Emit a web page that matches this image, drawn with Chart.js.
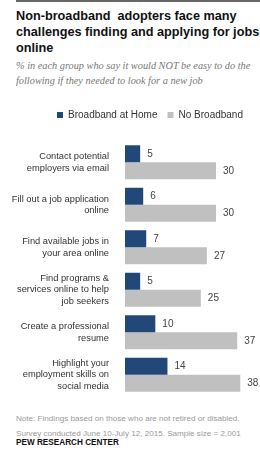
<!DOCTYPE html>
<html>
<head>
<meta charset="utf-8">
<script src="https://cdn.jsdelivr.net/npm/chart.js@4/dist/chart.umd.min.js"></script>
<style>
  body { margin: 0; width: 260px; height: 464px; background: #fff; position: relative; overflow: hidden; }
  .topline { position: absolute; left: 16px; right: 0; top: 0; height: 2px; background: #666; }
  h1 { position: absolute; left: 16px; top: 8px; margin: 0; font: bold 12.7px/16.2px "Liberation Sans", Arial, sans-serif; color: #111; }
  .sub { position: absolute; left: 16px; top: 58px; margin: 0; font: italic 10.3px/15px "Liberation Serif", Georgia, serif; color: #777; }
  #wrap { position: absolute; left: 0; top: 100px; width: 260px; height: 300px; }
  .foot { position: absolute; left: 16px; font: 8.1px "Liberation Sans", Arial, sans-serif; color: #999; white-space: nowrap; }
  .pew { position: absolute; left: 16px; top: 438px; font: bold 8.2px "Liberation Sans", Arial, sans-serif; color: #111; }
</style>
</head>
<body>
<div class="topline"></div>
<h1>Non-broadband&nbsp; adopters face many<br>challenges finding and applying for jobs<br>online</h1>
<p class="sub">% in each group who say it would NOT be easy to do the<br>following if they needed to look for a new job</p>
<div id="wrap"><canvas id="chart"></canvas></div>
<div class="foot" style="top:414px">Note: Findings based on those who are not retired or disabled.</div>
<div class="foot" style="top:429px">Survey conducted June 10-July 12, 2015. Sample size = 2,001</div>
<div class="pew">PEW RESEARCH CENTER</div>
<script>
const categories = [
  ['Contact potential', 'employers via email'],
  ['Fill out a job application', 'online'],
  ['Find available jobs in', 'your area online'],
  ['Find programs &', 'services online to help', 'job seekers'],
  ['Create a professional', 'resume'],
  ['Highlight your', 'employment skills on', 'social media']
];
const broadbandAtHome = [5, 6, 7, 5, 10, 14];
const noBroadband = [30, 30, 27, 25, 37, 38];

// extra space under the legend, and nudge it right like the original
const legendGap = {
  id: 'legendGap',
  beforeInit(chart) {
    const fit = chart.legend.fit;
    chart.legend.fit = function () {
      fit.bind(chart.legend)();
      this.height += 11;
    };
  },
  afterLayout(chart) {
    chart.legend.left += 20;
    chart.legend.right += 20;
  }
};

const valueLabels = {
  id: 'valueLabels',
  afterDatasetsDraw(chart) {
    const ctx = chart.ctx;
    ctx.save();
    ctx.font = '10px "Liberation Sans", Arial, sans-serif';
    ctx.fillStyle = '#444';
    ctx.textBaseline = 'middle';
    chart.data.datasets.forEach((ds, i) => {
      chart.getDatasetMeta(i).data.forEach((bar, j) => {
        ctx.fillText(ds.data[j], bar.x + 7, bar.y);
      });
    });
    ctx.restore();
  }
};

new Chart(document.getElementById('chart'), {
  type: 'bar',
  data: {
    labels: categories,
    datasets: [
      { label: 'Broadband at Home', data: broadbandAtHome, backgroundColor: '#22487a' },
      { label: 'No Broadband', data: noBroadband, backgroundColor: '#c0c0c0' }
    ]
  },
  options: {
    indexAxis: 'y',
    responsive: true,
    maintainAspectRatio: false,
    animation: false,
    categoryPercentage: 0.8,
    barPercentage: 1,
    layout: { padding: { top: 0, bottom: 4, left: 0, right: 0 } },
    plugins: {
      legend: {
        position: 'top',
        labels: {
          boxWidth: 6, boxHeight: 6, padding: 10,
          color: '#333',
          font: { size: 10, family: '"Liberation Sans", Arial, sans-serif' }
        }
      },
      tooltip: { enabled: false }
    },
    scales: {
      x: { display: false, min: 0, max: 44.5 },
      y: {
        grid: { display: false },
        border: { display: false },
        afterFit(scale) {
          scale.width = 125;
          scale.paddingTop = 0;
          scale.paddingBottom = 0;
        },
        ticks: {
          padding: 8,
          color: '#333',
          font: { size: 9.3, family: '"Liberation Sans", Arial, sans-serif', lineHeight: 1.25 }
        }
      }
    }
  },
  plugins: [legendGap, valueLabels]
});
</script>
</body>
</html>
